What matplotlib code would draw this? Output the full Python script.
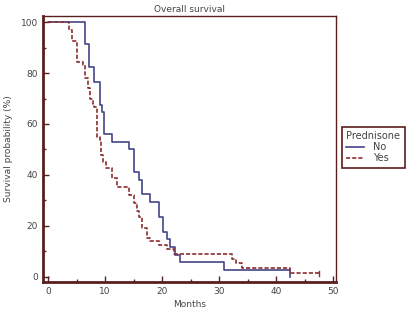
import numpy as np
import matplotlib
matplotlib.use("Agg")
import matplotlib.pyplot as plt
from matplotlib.ticker import MultipleLocator

# Kaplan-Meier step curves (months, survival %)
no_times = [0, 6.5, 7.1, 8.1, 9.1, 9.5, 9.8, 11.2, 14.1, 15.0, 15.9, 16.4,
            17.9, 19.5, 20.1, 20.8, 21.3, 22.3, 23.2, 30.8, 42.5]
no_surv = [100, 91.2, 82.4, 76.5, 67.6, 64.7, 55.9, 52.9, 50.0, 41.2, 38.2, 32.4,
           29.4, 23.5, 17.6, 14.7, 11.8, 8.8, 5.9, 2.9, 0]
no_end = 42.5

yes_times = [0, 3.6, 4.2, 5.1, 6.1, 6.5, 7.0, 7.4, 7.8, 8.1, 8.5, 9.1, 9.3, 9.6,
             10.1, 11.2, 12.0, 14.1, 15.0, 15.5, 15.9, 16.4, 17.3, 17.9, 19.4,
             20.8, 22.0, 32.3, 33.0, 34.0, 42.5]
yes_surv = [100, 97, 92.5, 84.4, 83, 78, 74, 70, 68, 66.7, 55, 53.7, 48, 45,
            42.6, 38.7, 35.2, 32.2, 28.9, 26, 23.6, 19.1, 15.2, 14.2, 12.5,
            10.9, 9.0, 7.0, 5.5, 3.6, 1.7]
yes_end = 47.5

frame_col = "#5a1e1e"
no_col = "#45458a"
yes_col = "#8b2e2e"
text_col = "#444444"

fig = plt.figure(figsize=(4.18, 3.12), dpi=100)
ax = fig.add_axes([0.103, 0.096, 0.701, 0.853])

ax.step(no_times + [no_end], no_surv + [no_surv[-1]], where="post",
        color=no_col, lw=1.2, label="No")
ax.step(yes_times + [yes_end], yes_surv + [yes_surv[-1]], where="post",
        color=yes_col, lw=1.2, ls=(0, (2.5, 1.2)), label="Yes")
# censor tick at end of Yes curve
ax.plot([yes_end, yes_end], [yes_surv[-1] - 1.5, yes_surv[-1] + 0.5],
        color=yes_col, lw=1)

ax.set_xlim(-0.9, 50.5)
ax.set_ylim(-2, 102.4)
ax.xaxis.set_major_locator(MultipleLocator(10))
ax.xaxis.set_minor_locator(MultipleLocator(5))
ax.yaxis.set_major_locator(MultipleLocator(20))
ax.yaxis.set_minor_locator(MultipleLocator(10))
ax.tick_params(which="both", direction="in", colors=frame_col,
               labelcolor=text_col, labelsize=6.5)
ax.tick_params(which="major", length=4, width=1)
ax.tick_params(which="minor", length=2.5, width=1)

for side, sp in ax.spines.items():
    sp.set_color(frame_col)
    sp.set_linewidth(2 if side in ("left", "bottom") else 1)

ax.set_title("Overall survival", fontsize=6.5, color=text_col, pad=3)
ax.set_xlabel("Months", fontsize=6.5, color=text_col, labelpad=3)
ax.set_ylabel("Survival probability (%)", fontsize=6.5, color=text_col,
              labelpad=6)

leg = fig.legend(loc="upper left", bbox_to_anchor=(0.818, 0.593),
                 title="Prednisone", fontsize=7, title_fontsize=7,
                 alignment="left", fancybox=False, framealpha=1,
                 handlelength=1.8, handletextpad=0.9, borderpad=0.45,
                 labelspacing=0.1, borderaxespad=0)
leg.get_frame().set_edgecolor(frame_col)
leg.get_frame().set_linewidth(1.2)
for t in leg.get_texts():
    t.set_color(text_col)
leg.get_title().set_color(text_col)

fig.savefig("out.png", dpi=100)
